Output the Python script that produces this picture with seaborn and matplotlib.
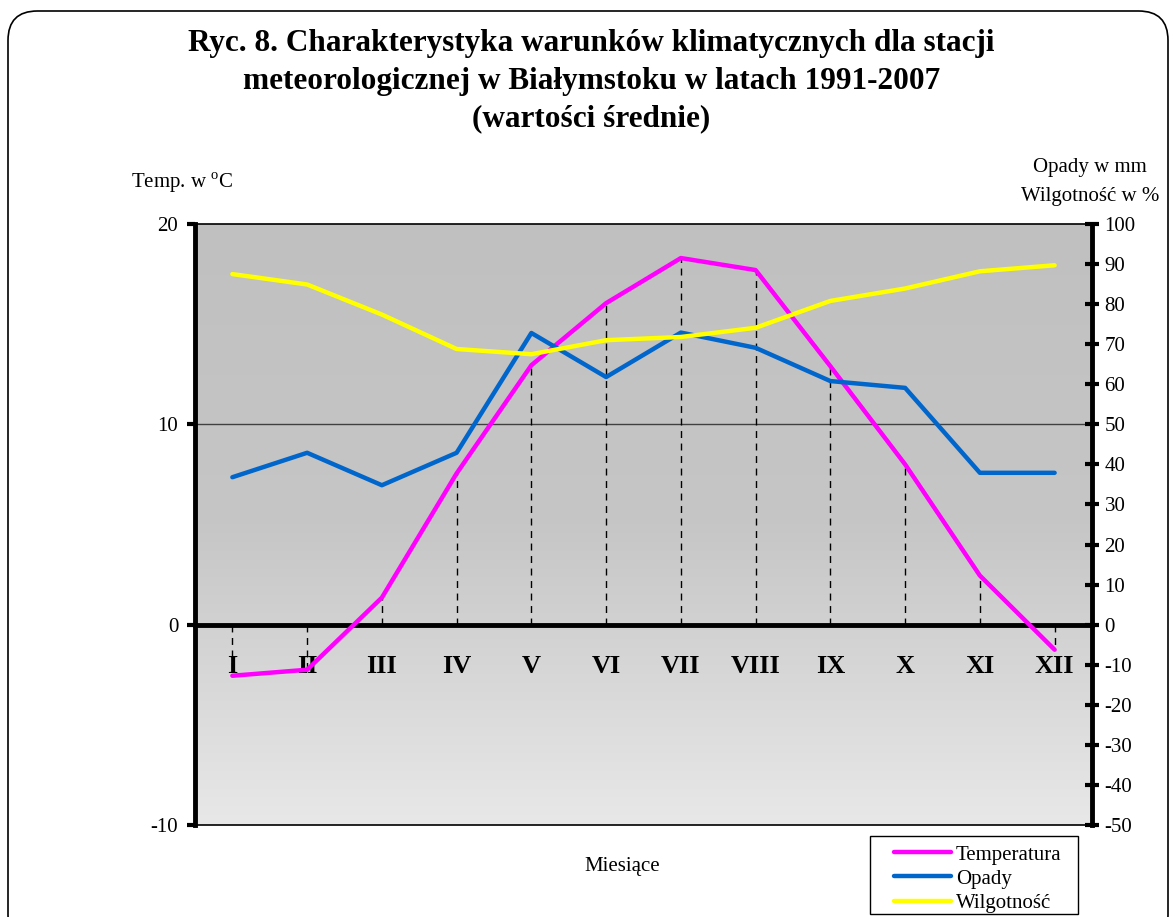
import pandas as pd
import numpy as np
import matplotlib
matplotlib.use('Agg')
import matplotlib.pyplot as plt
import seaborn as sns
from matplotlib.colors import LinearSegmentedColormap
from matplotlib.patches import FancyBboxPatch, Rectangle
from matplotlib.lines import Line2D

# data
months = ['I', 'II', 'III', 'IV', 'V', 'VI', 'VII', 'VIII', 'IX', 'X', 'XI', 'XII']
temperatura = [-2.55, -2.25, 1.35, 7.55, 12.95, 16.05, 18.3, 17.7, 12.9, 8.0, 2.45, -1.25]
opady = [36.8, 42.9, 34.8, 42.9, 72.8, 61.8, 72.9, 69.1, 60.8, 59.1, 37.9, 37.9]
wilgotnosc = [87.5, 84.9, 77.4, 68.8, 67.5, 71.0, 71.8, 74.1, 80.8, 83.9, 88.2, 89.7]

df = pd.DataFrame({'pos': np.arange(len(months)), 'Temperatura': temperatura,
                   'Opady': opady, 'Wilgotność': wilgotnosc})

sns.set_theme(style='white')
plt.rcParams['font.family'] = ['Liberation Serif', 'DejaVu Serif']
plt.rcParams['mathtext.fontset'] = 'custom'
plt.rcParams['axes.unicode_minus'] = False
for k in ['text.color', 'axes.labelcolor', 'xtick.color', 'ytick.color', 'xtick.labelcolor', 'ytick.labelcolor']:
    plt.rcParams[k] = 'black'

fig = plt.figure(figsize=(11.76, 9.17), dpi=100)
ax = fig.add_axes([195/1176, 92/917, 897/1176, 601/917])

# grey gradient background
cmap = LinearSegmentedColormap.from_list('bg', ['#c0c0c0', '#c6c6c6', '#e8e8e8'])
ax.imshow(np.linspace(0, 1, 256).reshape(-1, 1), extent=[-0.5, 11.5, -10, 20],
          aspect='auto', cmap=cmap, origin='upper', zorder=0)

ax.axhline(10, color='#404040', lw=1, zorder=1)
ax.axhline(-10, color='black', lw=1.2, zorder=3, clip_on=False)
ax.vlines(df['pos'], 0, df['Temperatura'], colors='black', linestyles=(0, (5, 4)), lw=1, zorder=2)

ax2 = ax.twinx()

sns.lineplot(data=df, x='pos', y='Temperatura', ax=ax, color='#ff00ff', lw=3.2, sort=False, zorder=4)
sns.lineplot(data=df, x='pos', y='Opady', ax=ax2, color='#0066cc', lw=3.2, sort=False, zorder=4)
sns.lineplot(data=df, x='pos', y='Wilgotność', ax=ax2, color='#ffff00', lw=3.2, sort=False, zorder=4)
for a in (ax, ax2):
    a.set_xlabel('')
    a.set_ylabel('')

# spines first (moving a spine resets the ticks)
ax.spines['bottom'].set_position(('data', 0))
ax.spines['bottom'].set_linewidth(3.5)
ax.spines['bottom'].set_zorder(3)
ax.spines['left'].set_linewidth(3.5)
ax.spines['top'].set_linewidth(1.2)
ax.spines['right'].set_visible(False)
for s in ax.spines.values():
    s.set_color('black')
ax2.spines['right'].set_linewidth(3.5)
ax2.spines['right'].set_color('black')
for side in ['left', 'top', 'bottom']:
    ax2.spines[side].set_visible(False)

ax.set_xlim(-0.5, 11.5)
ax.set_ylim(-10, 20)
ax.set_yticks([-10, 0, 10, 20])
ax.tick_params(axis='y', direction='out', length=6, width=3, color='black', labelsize=15, pad=6, left=True)
ax.set_xticks(df['pos'])
ax.set_xticklabels(months)
ax.tick_params(axis='x', length=0, pad=22, bottom=True, labelsize=19)

ax2.set_ylim(-50, 100)
ax2.set_yticks(np.arange(-50, 101, 10))
ax2.tick_params(axis='y', direction='inout', length=10, width=3, color='black', labelsize=15, pad=4, right=True)

fig.text(0.503, 1 - 29/917,
         'Ryc. 8. Charakterystyka warunków klimatycznych dla stacji\n'
         'meteorologicznej w Białymstoku w latach 1991-2007\n(wartości średnie)',
         ha='center', va='top', fontsize=22.5, fontweight='bold', linespacing=1.39)
fig.text(131/1176, 1 - 183/917, r'Temp. w $^{\mathregular{o}}$C', ha='left', va='center', fontsize=15)
fig.text(1090/1176, 1 - 182/917, 'Opady w mm\nWilgotność w %', ha='center', va='center',
         multialignment='center', fontsize=15, linespacing=1.65)
fig.text(622/1176, 1 - 866/917, 'Miesiące', ha='center', va='center', fontsize=15)

handles = [Line2D([], [], color=c, lw=3.2) for c in ['#ff00ff', '#0066cc', '#ffff00']]
leg = fig.legend(handles, ['Temperatura', 'Opady', 'Wilgotność'], loc='upper left',
                 bbox_to_anchor=(894/1176, 1 - 845/917), fontsize=15, frameon=False,
                 handlelength=2.74, handletextpad=0.24,
                 labelspacing=0.22, borderpad=0, borderaxespad=0)
fig.patches.append(Rectangle((870/1176, 1 - 914/917), 208/1176, 78/917, transform=fig.transFigure,
                             fill=False, ec='black', lw=1))

fig.patches.append(FancyBboxPatch((8/1176, -0.03), 1160/1176, 1 - 11/917 + 0.03,
                                  boxstyle='round,pad=0,rounding_size=0.025',
                                  mutation_aspect=1176/917,
                                  transform=fig.transFigure, fill=False, ec='black', lw=1.2))

for lab in ax.get_xticklabels():
    lab.set_fontweight('bold')

fig.savefig('out.png', dpi=100)
